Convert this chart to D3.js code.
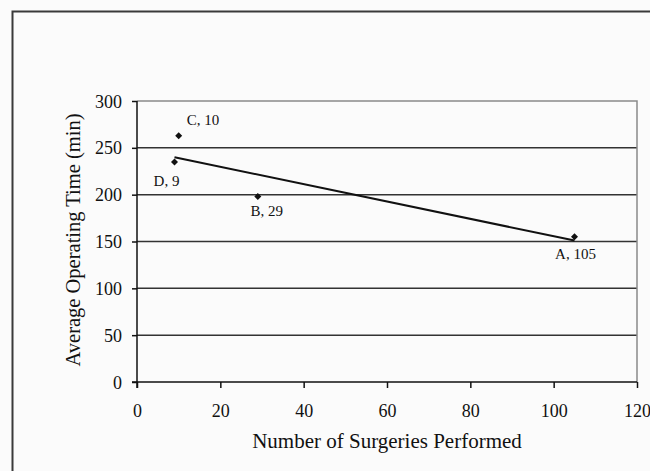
<!DOCTYPE html>
<html>
<head>
<meta charset="utf-8">
<script src="https://cdn.jsdelivr.net/npm/d3@7"></script>
<style>
  html, body { margin: 0; padding: 0; background: #fbfbfb; }
  svg { display: block; }
  text { font-family: "Liberation Serif", "Times New Roman", serif; fill: #111; }
</style>
</head>
<body>
<svg id="chart" width="650" height="471"></svg>
<script>
// ---- data ----
const surgeons = ["A", "B", "C", "D"];
const surgeries = [105, 29, 10, 9];
const operatingTime = [155, 198, 263, 235];
const trendX = [9, 105];
const trendY = [240, 151];
const xTicks = [0, 20, 40, 60, 80, 100, 120];
const yTicks = [0, 50, 100, 150, 200, 250, 300];

// ---- layout ----
const svg = d3.select("#chart");
const W = 650, H = 471;
const plot = { left: 137, top: 101, right: 637, bottom: 382 };

svg.append("rect").attr("width", W).attr("height", H).attr("fill", "#fbfbfb");
// outer frame
svg.append("rect")
  .attr("x", 12.5).attr("y", 11.5).attr("width", 700).attr("height", 600)
  .attr("fill", "none").attr("stroke", "#3a3a3a").attr("stroke-width", 2);

const x = d3.scaleLinear().domain([0, 120]).range([plot.left, plot.right]);
const y = d3.scaleLinear().domain([0, 300]).range([plot.bottom, plot.top]);

// gridlines
svg.append("g").selectAll("line")
  .data(yTicks.filter(v => v > 0 && v < 300))
  .join("line")
  .attr("x1", plot.left).attr("x2", plot.right)
  .attr("y1", d => y(d)).attr("y2", d => y(d))
  .attr("stroke", "#333").attr("stroke-width", 1.5);

// plot border top / right
svg.append("path")
  .attr("d", `M${plot.left},${y(300)}H${x(120)}V${plot.bottom}`)
  .attr("fill", "none").attr("stroke", "#8a8a8a").attr("stroke-width", 1.5);

// y axis
const yAxis = svg.append("g")
  .attr("transform", `translate(${plot.left},0)`)
  .call(d3.axisLeft(y).tickValues(yTicks).tickSize(5).tickPadding(10).tickFormat(d3.format("d")));
yAxis.select(".domain").attr("stroke", "#111").attr("stroke-width", 1.5)
  .attr("d", `M0,${y(300)}V${plot.bottom + 6}`);
yAxis.selectAll(".tick line").attr("stroke", "#111").attr("stroke-width", 1.5);
yAxis.selectAll(".tick text").style("font-size", "18px").attr("dy", "0.34em");

// x axis
const xAxis = svg.append("g")
  .attr("transform", `translate(0,${plot.bottom})`)
  .call(d3.axisBottom(x).tickValues(xTicks).tickSize(6).tickPadding(16).tickFormat(d3.format("d")));
xAxis.select(".domain").attr("stroke", "#111").attr("stroke-width", 1.5)
  .attr("d", `M${plot.left - 5},0H${x(120)}`);
xAxis.selectAll(".tick line").attr("stroke", "#111").attr("stroke-width", 1.5);
xAxis.selectAll(".tick text").style("font-size", "18px");

// trend line
svg.append("path")
  .datum(trendX.map((v, i) => [v, trendY[i]]))
  .attr("d", d3.line().x(d => x(d[0])).y(d => y(d[1])))
  .attr("fill", "none").attr("stroke", "#111").attr("stroke-width", 2);

// points
const pts = surgeons.map((s, i) => ({ name: s, n: surgeries[i], t: operatingTime[i] }));
svg.append("g").selectAll("path")
  .data(pts).join("path")
  .attr("transform", d => `translate(${x(d.n)},${y(d.t)})`)
  .attr("d", "M0,-3.5L3.5,0L0,3.5L-3.5,0Z")
  .attr("fill", "#111");

// labels
const labelOffset = { A: [1, 22, "middle"], B: [9, 19, "middle"], C: [8, -11, "start"], D: [-8, 24, "middle"] };
svg.append("g").selectAll("text")
  .data(pts).join("text")
  .attr("x", d => x(d.n) + labelOffset[d.name][0])
  .attr("y", d => y(d.t) + labelOffset[d.name][1])
  .attr("text-anchor", d => labelOffset[d.name][2])
  .style("font-size", "15px")
  .text(d => `${d.name}, ${d.n}`);

// axis titles
svg.append("text")
  .attr("x", (plot.left + plot.right) / 2 - 0).attr("y", 448)
  .attr("text-anchor", "middle").style("font-size", "21px")
  .text("Number of Surgeries Performed");
svg.append("text")
  .attr("transform", `translate(80,${240}) rotate(-90)`)
  .attr("text-anchor", "middle").style("font-size", "20.5px")
  .text("Average Operating Time (min)");
</script>
</body>
</html>
